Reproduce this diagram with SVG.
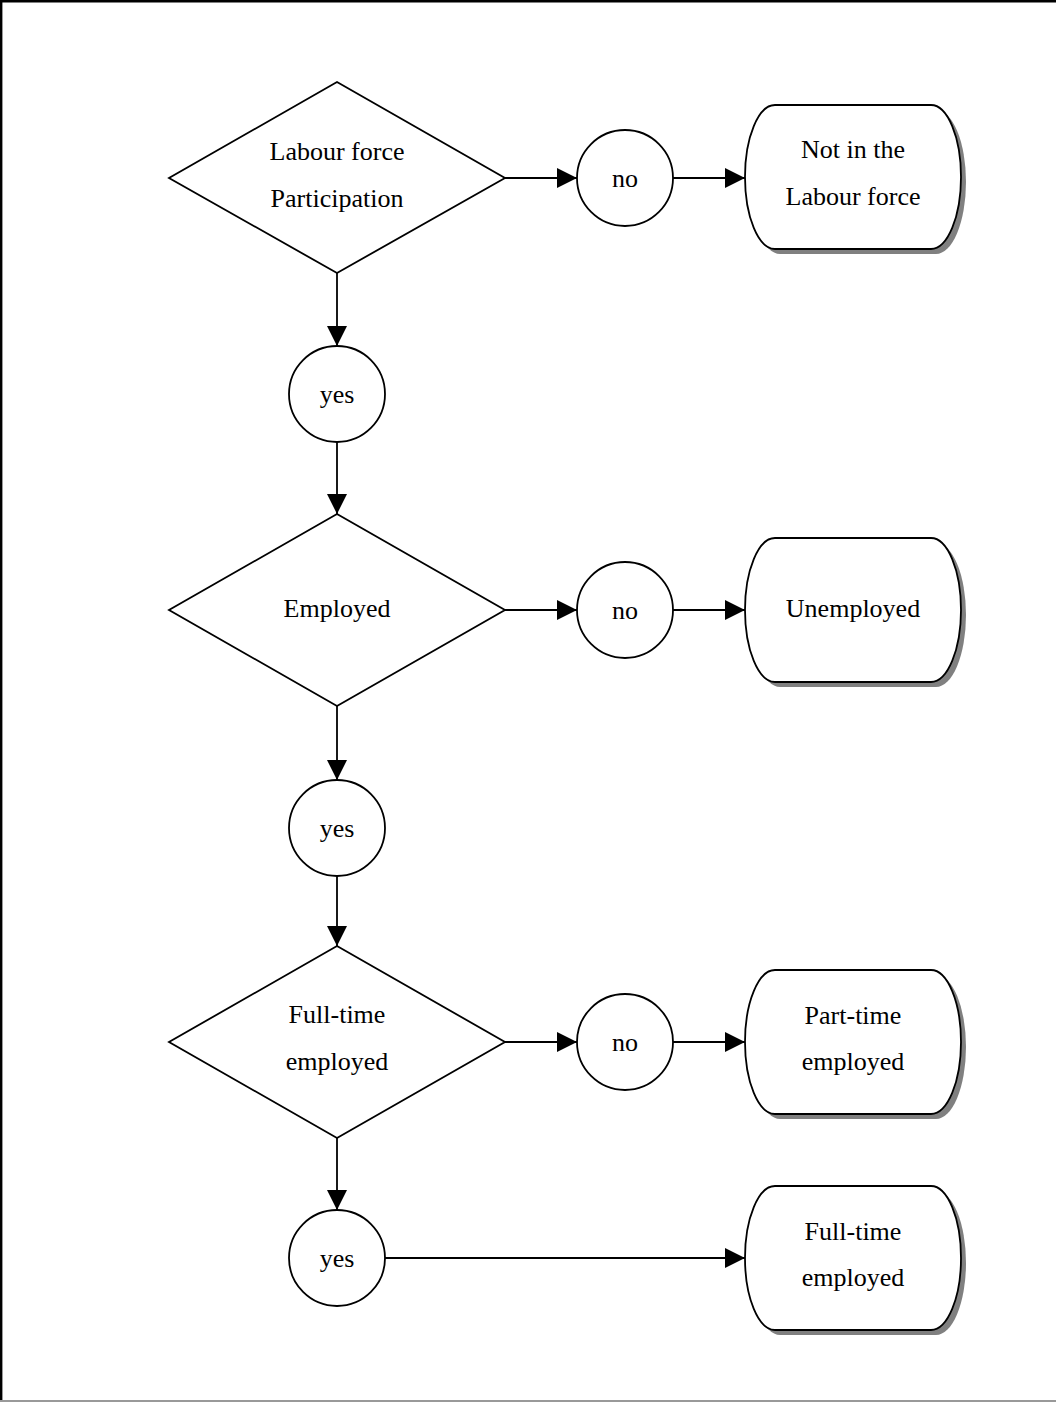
<svg xmlns="http://www.w3.org/2000/svg" width="1056" height="1402" viewBox="0 0 1056 1402">
<style>
.shape{fill:#fff;stroke:#000;stroke-width:1.8}
.shadow{fill:#808080;stroke:none}
.conn{stroke:#000;stroke-width:1.8;fill:none}
text{font-family:"Liberation Serif","Times New Roman",serif;font-size:26px;fill:#000;text-anchor:middle}
</style>
<defs>
<marker id="arrow" markerUnits="userSpaceOnUse" markerWidth="20" markerHeight="20" refX="20" refY="10" orient="auto" viewBox="0 0 20 20">
<path d="M0,0 L20,10 L0,20 z" fill="#000"/>
</marker>
<path id="term" d="M30,0 H186 A30,72 0 0 1 186,144 H30 A30,72 0 0 1 30,0 Z"/>
</defs>
<rect x="0" y="0" width="1056" height="1402" fill="#fff"/>
<line x1="0" y1="1.2" x2="1056" y2="1.2" stroke="#000" stroke-width="2.4"/>
<line x1="1.2" y1="0" x2="1.2" y2="1402" stroke="#000" stroke-width="2.4"/>
<line x1="0" y1="1401" x2="1056" y2="1401" stroke="#999" stroke-width="2"/>

<g id="connectors">
<line class="conn" x1="505" y1="178" x2="577" y2="178" marker-end="url(#arrow)"/>
<line class="conn" x1="673" y1="178" x2="745" y2="178" marker-end="url(#arrow)"/>
<line class="conn" x1="505" y1="610" x2="577" y2="610" marker-end="url(#arrow)"/>
<line class="conn" x1="673" y1="610" x2="745" y2="610" marker-end="url(#arrow)"/>
<line class="conn" x1="505" y1="1042" x2="577" y2="1042" marker-end="url(#arrow)"/>
<line class="conn" x1="673" y1="1042" x2="745" y2="1042" marker-end="url(#arrow)"/>
<line class="conn" x1="385" y1="1258" x2="745" y2="1258" marker-end="url(#arrow)"/>
<line class="conn" x1="337" y1="273" x2="337" y2="346" marker-end="url(#arrow)"/>
<line class="conn" x1="337" y1="442" x2="337" y2="514" marker-end="url(#arrow)"/>
<line class="conn" x1="337" y1="706" x2="337" y2="780" marker-end="url(#arrow)"/>
<line class="conn" x1="337" y1="876" x2="337" y2="946" marker-end="url(#arrow)"/>
<line class="conn" x1="337" y1="1138" x2="337" y2="1210" marker-end="url(#arrow)"/>
</g>

<g id="d1">
<polygon class="shape" points="337,82 505,178 337,273 169,178"/>
<text x="337" y="160">Labour force</text>
<text x="337" y="207">Participation</text>
</g>
<g id="no1">
<circle class="shape" cx="625" cy="178" r="48"/>
<text x="625" y="187">no</text>
</g>
<g id="t1" transform="translate(745,105)">
<use href="#term" class="shadow" x="5" y="5"/>
<use href="#term" class="shape"/>
<text x="108" y="53">Not in the</text>
<text x="108" y="100">Labour force</text>
</g>
<g id="yes1">
<circle class="shape" cx="337" cy="394" r="48"/>
<text x="337" y="403">yes</text>
</g>

<g id="d2">
<polygon class="shape" points="337,514 505,610 337,706 169,610"/>
<text x="337" y="617">Employed</text>
</g>
<g id="no2">
<circle class="shape" cx="625" cy="610" r="48"/>
<text x="625" y="619">no</text>
</g>
<g id="t2" transform="translate(745,538)">
<use href="#term" class="shadow" x="5" y="5"/>
<use href="#term" class="shape"/>
<text x="108" y="79">Unemployed</text>
</g>
<g id="yes2">
<circle class="shape" cx="337" cy="828" r="48"/>
<text x="337" y="837">yes</text>
</g>

<g id="d3">
<polygon class="shape" points="337,946 505,1042 337,1138 169,1042"/>
<text x="337" y="1023">Full-time</text>
<text x="337" y="1070">employed</text>
</g>
<g id="no3">
<circle class="shape" cx="625" cy="1042" r="48"/>
<text x="625" y="1051">no</text>
</g>
<g id="t3" transform="translate(745,970)">
<use href="#term" class="shadow" x="5" y="5"/>
<use href="#term" class="shape"/>
<text x="108" y="54">Part-time</text>
<text x="108" y="100">employed</text>
</g>
<g id="yes3">
<circle class="shape" cx="337" cy="1258" r="48"/>
<text x="337" y="1267">yes</text>
</g>
<g id="t4" transform="translate(745,1186)">
<use href="#term" class="shadow" x="5" y="5"/>
<use href="#term" class="shape"/>
<text x="108" y="54">Full-time</text>
<text x="108" y="100">employed</text>
</g>
</svg>
